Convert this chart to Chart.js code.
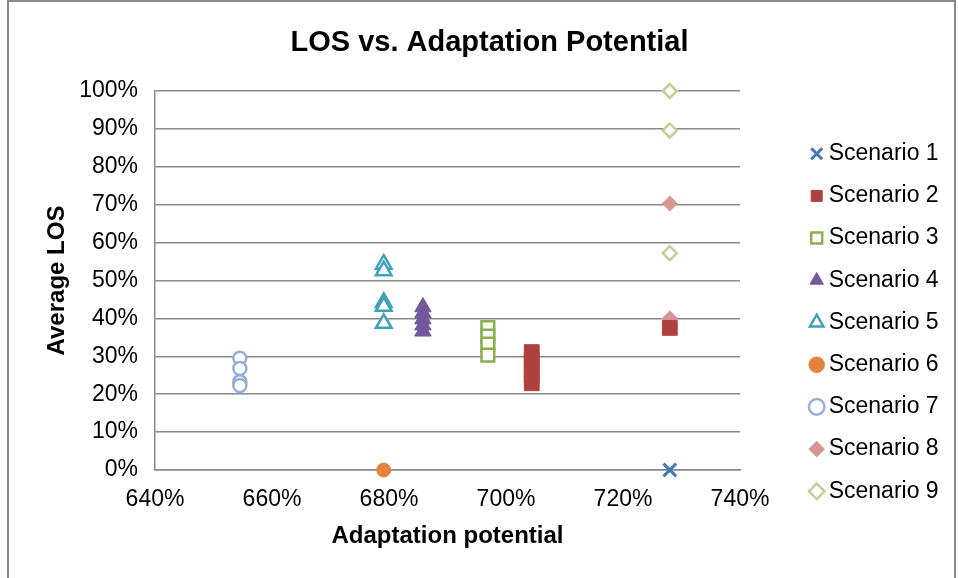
<!DOCTYPE html>
<html>
<head>
<meta charset="utf-8">
<script src="https://cdn.jsdelivr.net/npm/chart.js@4/dist/chart.umd.min.js"></script>
<style>
html, body { margin: 0; padding: 0; background: #fff; }
#wrap { position: relative; width: 958px; height: 578px; }
#frame { position: absolute; left: 7px; top: 0; width: 949px; height: 600px; box-sizing: border-box; border: 2px solid #8a8a8a; pointer-events: none; }
</style>
</head>
<body>
<div id="wrap">
  <canvas id="chart" width="958" height="578"></canvas>
  <div id="frame"></div>
</div>
<script>
// --- data (percent values) ---
const scenarioNames = ['Scenario 1', 'Scenario 2', 'Scenario 3', 'Scenario 4', 'Scenario 5', 'Scenario 6', 'Scenario 7', 'Scenario 8', 'Scenario 9'];

const s1X = [728];
const s1Y = [0];
const s2X = [704.4, 704.4, 704.4, 704.4, 704.4, 728];
const s2Y = [31.1, 29, 27, 25, 22.9, 37.5];
const s3X = [696.9, 696.9, 696.9, 696.9];
const s3Y = [37.6, 35.3, 33.2, 30.3];
const s4X = [685.8, 685.8, 685.8, 685.8, 685.8];
const s4Y = [43.0, 41.4, 39.8, 38.2, 36.6];
const s5X = [679.1, 679.1, 679.1, 679.1, 679.1];
const s5Y = [54.3, 52.6, 44.2, 43.2, 38.7];
const s6X = [679.1];
const s6Y = [0];
const s7X = [654.5, 654.5, 654.5, 654.5];
const s7Y = [29.5, 26.8, 23.3, 22.3];
const s8X = [728, 728];
const s8Y = [70.3, 40.0];
const s9X = [728, 728, 728];
const s9Y = [100, 89.6, 57.2];

const xTickValues = [640, 660, 680, 700, 720, 740];
const yTickValues = [0, 10, 20, 30, 40, 50, 60, 70, 80, 90, 100];

// --- styles ---
const FONT = "'Liberation Sans', Arial, sans-serif";
const GRID = '#8a8a8a';

const seriesX = [s1X, s2X, s3X, s4X, s5X, s6X, s7X, s8X, s9X];
const seriesY = [s1Y, s2Y, s3Y, s4Y, s5Y, s6Y, s7Y, s8Y, s9Y];
const markerStyles = [
    { pointStyle: 'crossRot', color: '#4677B8', fill: null, radius: 9, width: 3 },
    { pointStyle: 'rect', color: '#B0403E', fill: '#B0403E', radius: 10.5, width: 1 },
    { pointStyle: 'rect', color: '#8BB04E', fill: '#ffffff', radius: 9, width: 2.5 },
    { pointStyle: 'triangle', color: '#73599B', fill: '#73599B', radius: 9.5, width: 1 },
    { pointStyle: 'triangle', color: '#3FA1BC', fill: '#ffffff', radius: 9, width: 2.5 },
    { pointStyle: 'circle', color: '#E4843C', fill: '#E4843C', radius: 7, width: 1 },
    { pointStyle: 'circle', color: '#93AFDA', fill: '#ffffff', radius: 6.5, width: 2.5 },
    { pointStyle: 'rectRot', color: '#D79593', fill: '#D79593', radius: 7.5, width: 1 },
    { pointStyle: 'rectRot', color: '#BCD392', fill: '#ffffff', radius: 7, width: 2.5 }
];

const datasets = scenarioNames.map((name, i) => {
    const m = markerStyles[i];
    return {
        label: name,
        data: seriesX[i].map((x, j) => ({ x: x, y: seriesY[i][j] })),
        pointStyle: m.pointStyle,
        pointRadius: m.radius,
        pointHoverRadius: m.radius,
        borderColor: m.color,
        backgroundColor: m.fill || m.color,
        borderWidth: m.width,
        showLine: false,
        clip: false
    };
});

const CHART_RIGHT = 740;

const config = {
    type: 'scatter',
    data: { datasets: datasets },
    options: {
        responsive: false, animation: false, devicePixelRatio: 1,
        layout: { padding: { left: 21, right: 0, top: 0, bottom: 26 } },
        scales: {
            x: {
                type: 'linear', min: 640, max: 740,
                afterBuildTicks: s => { s.ticks = xTickValues.map(v => ({ value: v })); },
                afterFit: s => { s.height = 82; },
                grid: { display: false },
                border: { display: true, color: GRID, width: 1.5 },
                ticks: { padding: 8, color: '#000', font: { family: FONT, size: 23 }, callback: v => v + '%' },
                title: { display: true, text: 'Adaptation potential', color: '#000', font: { family: FONT, size: 24, weight: 'bold' }, padding: { top: 0, bottom: 1.6 } }
            },
            y: {
                type: 'linear', min: 0, max: 100,
                afterBuildTicks: s => { s.ticks = yTickValues.map(v => ({ value: v })); },
                afterFit: s => { s.width = 134; },
                grid: { color: GRID, lineWidth: 1.5, drawTicks: false },
                border: { display: true, color: GRID, width: 1.5 },
                ticks: { padding: 17, color: '#000', font: { family: FONT, size: 23 }, callback: v => v + '%' },
                title: { display: true, text: 'Average LOS', color: '#000', font: { family: FONT, size: 24, weight: 'bold' }, padding: { top: 21.6, bottom: 0 } }
            },
            gap: {
                type: 'linear', position: 'right', display: true,
                grid: { display: false }, border: { display: false }, ticks: { display: false },
                afterFit: s => { s.width = 958 - CHART_RIGHT - s.chart.legend.width; }
            }
        },
        plugins: {
            title: {
                display: true, text: 'LOS vs. Adaptation Potential', color: '#000',
                font: { family: FONT, size: 29, weight: 'bold' },
                padding: { top: 25.6, bottom: 30.6 }
            },
            legend: {
                position: 'right', maxWidth: 161,
                title: { display: true, text: ' ', font: { size: 10 }, padding: { top: 40.5, bottom: 40.5 } },
                labels: {
                    usePointStyle: true, boxWidth: 1, boxHeight: 11, padding: 19.2,
                    color: '#000', font: { family: FONT, size: 23 },
                    // trailing spaces widen the measured label so the box fills to the right edge
                    generateLabels: chart => Chart.defaults.plugins.legend.labels.generateLabels(chart)
                        .map(l => Object.assign(l, { text: l.text + '      ' }))
                }
            },
            tooltip: { enabled: false }
        }
    }
};

new Chart(document.getElementById('chart'), config);
</script>
</body>
</html>
